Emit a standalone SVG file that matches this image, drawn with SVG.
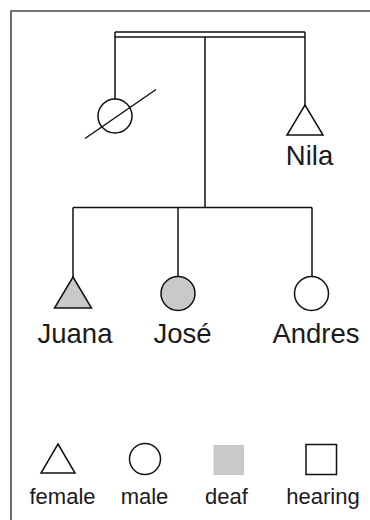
<svg xmlns="http://www.w3.org/2000/svg" width="370" height="520" viewBox="0 0 370 520">
  <style>
    .line { fill: none; stroke: #111; stroke-width: 1.5; }
    .sym { fill: #fff; stroke: #111; stroke-width: 1.5; }
    .deaf { fill: #c9c9c7; stroke: #111; stroke-width: 1.5; }
    .name { font-family: "Liberation Sans", Arial, sans-serif; font-size: 27.5px; fill: #1a1a1a; text-anchor: middle; }
    .key { font-family: "Liberation Sans", Arial, sans-serif; font-size: 22px; fill: #1a1a1a; text-anchor: middle; }
  </style>
  <rect width="370" height="520" fill="#fff"/>
  <!-- frame -->
  <path d="M11,520 V11 H370" fill="none" stroke="#4a4a4a" stroke-width="1.6"/>

  <!-- connectors -->
  <g id="connectors">
    <!-- marriage (double) line -->
    <path class="line" d="M115,32 H305 M115,37 H305 M115,32 V99 M305,32 V105"/>
    <!-- descent line and sibling bar -->
    <path class="line" d="M205,37 V207.5 M73,207.5 H312 M73,207.5 V277 M178,207.5 V276 M312,207.5 V276"/>
  </g>

  <g id="father">
    <circle class="sym" cx="115" cy="116" r="17"/>
    <line class="line" x1="85" y1="138.5" x2="156" y2="89.5"/>
  </g>

  <g id="nila">
    <polygon class="sym" points="305,105 323,135 287,135"/>
    <text class="name" x="309.5" y="165">Nila</text>
  </g>

  <g id="juana">
    <polygon class="deaf" points="73,277 91.5,308 54.5,308"/>
    <text class="name" x="75" y="343">Juana</text>
  </g>

  <g id="jose">
    <circle class="deaf" cx="178" cy="293.5" r="17"/>
    <text class="name" x="182.5" y="343">José</text>
  </g>

  <g id="andres">
    <circle class="sym" cx="311.5" cy="293.5" r="17"/>
    <text class="name" x="316" y="343">Andres</text>
  </g>

  <!-- legend -->
  <g id="key-female">
    <polygon class="sym" points="58,444 75,473 41,473"/>
    <text class="key" x="62.5" y="504">female</text>
  </g>
  <g id="key-male">
    <circle class="sym" cx="145" cy="459" r="15.5"/>
    <text class="key" x="144.5" y="504">male</text>
  </g>
  <g id="key-deaf">
    <rect x="213.5" y="445" width="30.5" height="30" fill="#c9c9c7"/>
    <text class="key" x="226.5" y="504">deaf</text>
  </g>
  <g id="key-hearing">
    <rect class="sym" x="306" y="444.5" width="30.5" height="30"/>
    <text class="key" x="323" y="504">hearing</text>
  </g>
</svg>
